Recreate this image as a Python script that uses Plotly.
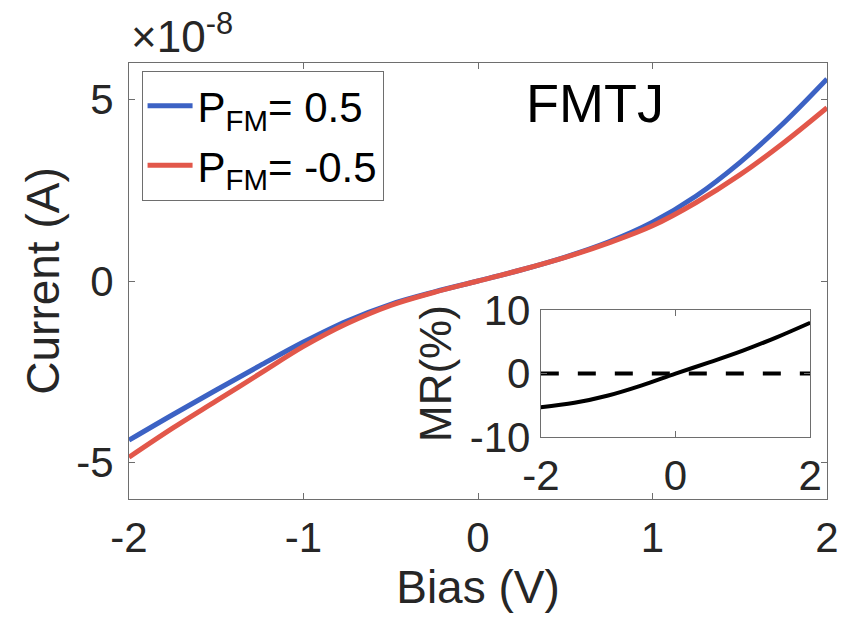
import plotly.graph_objects as go

# ---- data ----
bias = [-2, -1.75, -1.5, -1.25, -1, -0.75, -0.5, -0.25, 0, 0.25, 0.5, 0.75, 1, 1.25, 1.5, 1.75, 2]
current_p05 = [-4.38, -3.68, -3.00, -2.33, -1.68, -1.10, -0.64, -0.30, 0, 0.31, 0.66, 1.08, 1.62, 2.34, 3.26, 4.34, 5.56]
current_m05 = [-4.85, -4.05, -3.30, -2.55, -1.80, -1.17, -0.67, -0.31, 0, 0.31, 0.65, 1.05, 1.52, 2.16, 2.92, 3.80, 4.77]

mr_bias = [-2, -1.5, -1, -0.5, 0, 0.5, 1, 1.5, 2]
mr_pct = [-5.3, -4.6, -3.45, -1.85, 0.0, 1.75, 3.6, 5.7, 8.0]
zero_line_x = [-2, 2]
zero_line_y = [0, 0]

main_xticks = [-2, -1, 0, 1, 2]
main_xtext = ["-2", "-1", "0", "1", "2"]
main_yticks = [-5, 0, 5]
main_ytext = ["-5", "0", "5"]
inset_xticks = [-2, 0, 2]
inset_xtext = ["-2", "0", "2"]
inset_yticks = [-10, 0, 10]
inset_ytext = ["-10", "0", "10"]

BLUE = "#3C62C4"
RED = "#E2574A"
AX = "#6e6e6e"
FONT = "Liberation Sans, Arial, sans-serif"

fig = go.Figure()
fig.add_trace(go.Scatter(x=bias, y=current_p05, mode="lines", line=dict(color=BLUE, width=5, shape="spline"),
                         name="P<sub>FM</sub>= 0.5", legendgroup="a"))
fig.add_trace(go.Scatter(x=bias, y=current_m05, mode="lines", line=dict(color=RED, width=5, shape="spline"),
                         name="P<sub>FM</sub>= -0.5", legendgroup="b"))
fig.add_trace(go.Scatter(x=zero_line_x, y=zero_line_y, mode="lines", xaxis="x2", yaxis="y2",
                         line=dict(color="black", width=4, dash="18px,19px"), showlegend=False))
fig.add_trace(go.Scatter(x=mr_bias, y=mr_pct, mode="lines", xaxis="x2", yaxis="y2",
                         line=dict(color="black", width=4, shape="spline"), showlegend=False))

axis_common = dict(showline=True, linecolor=AX, linewidth=1, mirror="ticks", ticks="inside",
                   ticklen=6, tickcolor=AX, showgrid=False, zeroline=False,
                   tickfont=dict(family=FONT, size=42, color="#262626"))

fig.update_layout(
    width=851, height=630,
    margin=dict(l=129, r=14, t=63, b=131),
    paper_bgcolor="white", plot_bgcolor="white",
    font=dict(family=FONT, color="#262626"),
    xaxis=dict(range=[-2, 2], tickvals=main_xticks, ticktext=main_xtext, ticklabelstandoff=2,
               title=dict(text="Bias (V)", font=dict(family=FONT, size=46), standoff=10),
               domain=[0, 1], **axis_common),
    yaxis=dict(range=[-6, 6], tickvals=main_yticks, ticktext=main_ytext, ticklabelstandoff=6,
               title=dict(text="Current (A)", font=dict(family=FONT, size=46), standoff=2),
               domain=[0, 1], **axis_common),
    xaxis2=dict(range=[-2, 2], tickvals=inset_xticks, ticktext=inset_xtext, domain=[0.590, 0.976],
                anchor="y2", ticklabelstandoff=2, **axis_common),
    yaxis2=dict(range=[-10, 10], tickvals=inset_yticks, ticktext=inset_ytext, domain=[0.142, 0.4335],
                anchor="x2", ticklabelstandoff=1,
                title=dict(text="MR(%)", font=dict(family=FONT, size=44), standoff=4),
                **axis_common),
    legend=dict(x=0.018, y=0.982, xanchor="left", yanchor="top",
                bgcolor="white", bordercolor=AX, borderwidth=1, itemwidth=45,
                font=dict(family=FONT, size=42, color="black"), tracegroupgap=2),
    annotations=[
        dict(text="FMTJ", x=0.667, y=0.908, xref="paper", yref="paper", showarrow=False,
             xanchor="center", yanchor="middle", font=dict(family=FONT, size=54, color="black")),
        dict(text="\u00d710<sup>-8</sup>", x=0.0, y=1.0, xref="paper", yref="paper", showarrow=False,
             xanchor="left", yanchor="bottom", font=dict(family=FONT, size=44, color="#262626")),
    ],
)

fig.write_html("out.html")
